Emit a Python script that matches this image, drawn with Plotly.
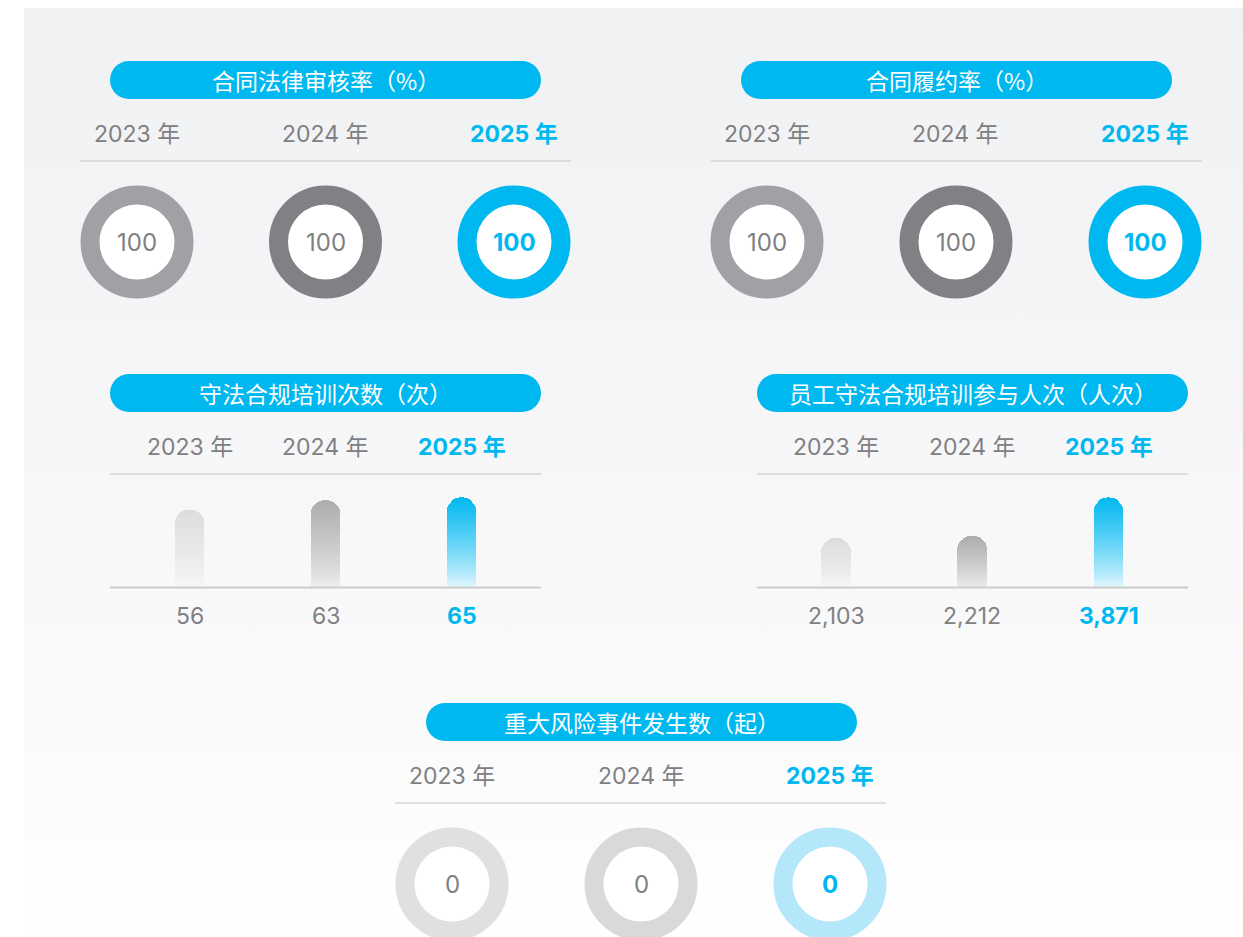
import plotly.graph_objects as go

# the page body margin is removed (post_script), so the figure fills the 1243x937 window
OFF = 0
PAGE_W, PAGE_H = 1243, 937
W, H = PAGE_W - OFF, PAGE_H - OFF

# ---------------- data ----------------
years = ["2023", "2024", "2025"]
year_labels = ["2023 年", "2024 年", "2025 年"]

review_title = "合同法律审核率（%）"
review_rate = [100, 100, 100]

perform_title = "合同履约率（%）"
perform_rate = [100, 100, 100]

training_title = "守法合规培训次数（次）"
training_sessions = [56, 63, 65]

attend_title = "员工守法合规培训参与人次（人次）"
attendance = [2103, 2212, 3871]

risk_title = "重大风险事件发生数（起）"
risk_events = [0, 0, 0]

# ---------------- styles ----------------
BLUE = "#00b8f0"
GRAY_TXT = "#808082"
LINE = "#c3c3c6"
FONT_CJK = "Noto Sans CJK SC"
FONT_NUM = "Inter, Noto Sans CJK SC"
ring_dark = ["#a0a1a4", "#808184", BLUE]
ring_light = ["#e0e0e1", "#d8d9da", "#b3e7f9"]
bar_top = ["#dcdddf", "#acadaf", "#00b8f0"]
bar_bot = ["#f6f7f8", "#eeeff0", "#e8f8fe"]


def X(px):
    return px - OFF


def Y(py):
    return H - (py - OFF)


def xdom(c0, c2):
    s = (c2 - c0) / 2
    return [X(c0 - s / 2) / W, X(c2 + s / 2) / W]


def ydom(py0, py1):
    return [max(0, Y(py1) / H), min(1, Y(py0) / H)]


def hexrgb(h):
    h = h.lstrip("#")
    return tuple(int(h[i:i + 2], 16) for i in (0, 2, 4))


def lerp(c1, c2, t):
    a, b = hexrgb(c1), hexrgb(c2)
    return "rgb(%d,%d,%d)" % tuple(round(a[i] + (b[i] - a[i]) * t) for i in range(3))


fig = go.Figure()

# background panel with vertical gradient (overlay pixel axis x/y)
fig.add_trace(go.Scatter(
    x=[X(24), W, W, X(24), X(24)], y=[Y(8), Y(8), 0, 0, Y(8)], mode="lines",
    line=dict(width=0), fill="toself",
    fillgradient=dict(type="vertical", colorscale=[[0, "#ffffff"], [0.25, "#fafafb"], [1, "#f0f1f3"]]),
    hoverinfo="skip", showlegend=False, xaxis="x", yaxis="y"))

axis_common = dict(visible=False, fixedrange=True)
layout_axes = dict(
    xaxis=dict(domain=[0, 1], range=[0, W], **axis_common),
    yaxis=dict(domain=[0, 1], range=[0, H], **axis_common),
)

shapes = []
annotations = []


def pill(x0, x1, py0, py1, text):
    r = (py1 - py0) / 2
    shapes.append(dict(type="rect", xref="x", yref="y", x0=X(x0 + r), x1=X(x1 - r), y0=Y(py1), y1=Y(py0),
                       fillcolor=BLUE, line=dict(width=0), layer="above"))
    for cx in (x0 + r, x1 - r):
        shapes.append(dict(type="circle", xref="x", yref="y", x0=X(cx - r), x1=X(cx + r), y0=Y(py1), y1=Y(py0),
                           fillcolor=BLUE, line=dict(width=0), layer="above"))
    annotations.append(dict(xref="x", yref="y", x=X((x0 + x1) / 2), y=Y((py0 + py1) / 2), text=text,
                            showarrow=False, font=dict(family=FONT_CJK, size=23, color="white"),
                            xanchor="center", yanchor="middle"))


def hline(x0, x1, py, color=LINE, w=1.2):
    shapes.append(dict(type="line", xref="x", yref="y", x0=X(x0), x1=X(x1), y0=Y(py), y1=Y(py),
                       line=dict(color=color, width=w), layer="above"))


def label(xa, i, py, txt, last, size=23):
    annotations.append(dict(xref=xa, yref="y", x=i, y=Y(py), text=("<b>%s</b>" % txt) if last else txt,
                            showarrow=False, xanchor="center", yanchor="middle",
                            font=dict(family=FONT_NUM, size=size, color=BLUE if last else GRAY_TXT)))


def year_row(xa, py):
    for i, lab in enumerate(year_labels):
        label(xa, i, py, lab, i == len(year_labels) - 1)


def donut_panel(k, c0, c2, cy, values, colors):
    xa, ya = "x%d" % k, "y%d" % k
    top_py, bot_py = cy - 60, min(cy + 60, PAGE_H)
    layout_axes["xaxis%d" % k] = dict(domain=xdom(c0, c2), range=[-0.5, 2.5], type="category", **axis_common)
    layout_axes["yaxis%d" % k] = dict(domain=ydom(top_py, bot_py), range=[-(bot_py - cy), cy - top_py],
                                      **axis_common)
    fig.add_trace(go.Scatter(
        x=years, y=[0] * len(years), mode="markers", xaxis=xa, yaxis=ya,
        marker=dict(size=94, color="white", line=dict(width=19, color=colors)),
        cliponaxis=False, hoverinfo="skip", showlegend=False))
    for i, v in enumerate(values):
        label(xa, i, cy, str(v), i == len(values) - 1, size=24)
    return xa


def bar_panel(k, c0, c2, base_py, top_range, values):
    xa, ya = "x%d" % k, "y%d" % k
    layout_axes["xaxis%d" % k] = dict(domain=xdom(c0, c2), range=[-0.5, 2.5], type="category", **axis_common)
    layout_axes["yaxis%d" % k] = dict(domain=ydom(base_py - 100, base_py), range=[0, top_range], **axis_common)
    N = 36
    for s in range(N):
        t = (s + 0.5) / N
        fig.add_trace(go.Bar(
            x=years, y=[v / N for v in values], xaxis=xa, yaxis=ya, width=0.22,
            marker=dict(color=[lerp(bar_bot[i], bar_top[i], t ** 0.8) for i in range(3)],
                        line=dict(width=0), cornerradius=15),
            hoverinfo="skip", showlegend=False))
    for i, v in enumerate(values):
        label(xa, i, base_py + 29, f"{v:,}", i == len(values) - 1)
    return xa


# ---- top-left: contract legal review rate
pill(110, 541, 61, 99, review_title)
xa = donut_panel(2, 137, 514, 242, review_rate, ring_dark)
year_row(xa, 134)
hline(80, 571, 161)

# ---- top-right: contract performance rate
pill(741, 1172, 61, 99, perform_title)
xa = donut_panel(3, 767, 1145, 242, perform_rate, ring_dark)
year_row(xa, 134)
hline(711, 1202, 161)

# ---- middle-left: training sessions
pill(110, 541, 374, 412, training_title)
xa = bar_panel(4, 189.5, 461.5, 587, 72.5, training_sessions)
year_row(xa, 447)
hline(110, 541, 474)
hline(110, 541, 587.5, color="#cbcbcd", w=2)

# ---- middle-right: attendance
pill(757, 1188, 374, 412, attend_title)
xa = bar_panel(5, 836, 1108.5, 587, 4320, attendance)
year_row(xa, 447)
hline(757, 1188, 474)
hline(757, 1188, 587.5, color="#cbcbcd", w=2)

# ---- bottom: major risk events
pill(426, 857, 703, 741, risk_title)
xa = donut_panel(6, 452, 830, 884, risk_events, ring_light)
year_row(xa, 776)
hline(395, 886, 803)

fig.update_layout(
    width=W, height=H, margin=dict(l=0, r=0, t=0, b=0),
    paper_bgcolor="white", plot_bgcolor="rgba(0,0,0,0)",
    barmode="stack", showlegend=False,
    shapes=shapes, annotations=annotations, **layout_axes)

fig.write_html("out.html", config={"displayModeBar": False},
               post_script="document.body.style.margin='0';"
                           "document.documentElement.style.overflow='hidden';"
                           "document.body.style.overflow='hidden';")
